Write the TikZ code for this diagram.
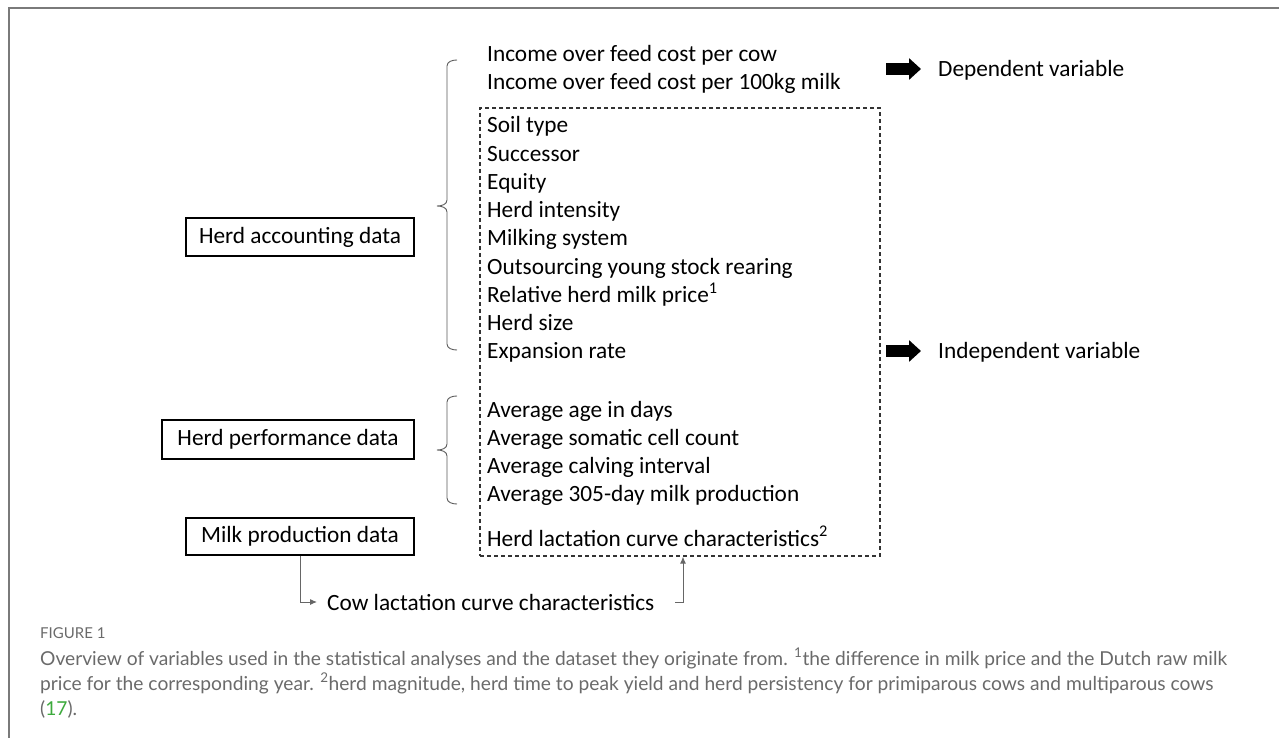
\documentclass[tikz,border=0pt]{standalone}
\usepackage{fontspec}
\setmainfont{Carlito}
\newfontfamily\capfont{Lato}
\usetikzlibrary{arrows.meta, positioning}
\definecolor{framegray}{HTML}{7A7A7A}
\definecolor{capgray}{HTML}{6A6A6A}
\definecolor{refgreen}{HTML}{3DAA3D}

\begin{document}
\begin{tikzpicture}[x=1pt, y=1pt]

\tikzset{databox/.style = {shape=rectangle, draw, line width=1.2pt, minimum height=38pt, font=\fontsize{23.3}{28}\selectfont}}
\tikzset{item/.style = {anchor=base west, inner sep=0pt, font=\fontsize{23.3}{28}\selectfont}}
\tikzset{dashbox/.style = {shape=rectangle, draw=black!80, dash pattern=on 4pt off 3pt, line width=1.1pt}}
\tikzset{curly/.style = {draw=black!65, line width=0.9pt}}
\tikzset{conn/.style = {draw=black!60, line width=1pt, -{Latex[length=7pt, width=6pt]}}}
\tikzset{bigarrow/.style = {line width=12pt, -{Triangle[length=12pt, width=21pt]}}}
\useasboundingbox (0,0) rectangle (1279,-738);
\draw[framegray, line width=1.5pt] (9,-738) -- (9,-8) -- (1279,-8);
% vertices
\node[databox, minimum width=228pt] (acc) at (300,-237) {Herd accounting data};
\node[databox, minimum width=252pt, minimum height=39pt] (perf) at (288,-439.5) {Herd performance data};
\node[databox, minimum width=228pt, minimum height=37pt] (milk) at (300,-536.5) {Milk production data};
\node[dashbox, minimum width=400pt, minimum height=448pt] (dash) at (680,-332) {};
\node[item] (inccow) at (487,-61.5) {Income over feed cost per cow};
\node[item] (inckg) at (487,-89.5) {Income over feed cost per 100kg milk};
\node[item] (soil) at (487,-133) {Soil type};
\node[item] (succ) at (487,-161.2) {Successor};
\node[item] (equity) at (487,-189.4) {Equity};
\node[item] (intens) at (487,-217.6) {Herd intensity};
\node[item] (milking) at (487,-245.8) {Milking system};
\node[item] (outsrc) at (487,-274) {Outsourcing young stock rearing};
\node[item] (price) at (487,-302.2) {Relative herd milk price\textsuperscript{1}};
\node[item] (size) at (487,-330.4) {Herd size};
\node[item] (expand) at (487,-358.6) {Expansion rate};
\node[item] (age) at (487,-417) {Average age in days};
\node[item] (scc) at (487,-445) {Average somatic cell count};
\node[item] (calving) at (487,-473) {Average calving interval};
\node[item] (prod305) at (487,-501) {Average 305-day milk production};
\node[item] (herdlac) at (487,-546) {Herd lactation curve characteristics\textsuperscript{2}};
\node[item] (cowlac) at (327,-610) {Cow lactation curve characteristics};
\node[item] (dep) at (938,-77) {Dependent variable};
\node[item] (indep) at (938,-358) {Independent variable};
\coordinate (deptail) at (886,-69);
\coordinate (indeptail) at (886,-351);
%edges
\draw[curly] (457,-60) to[out=180,in=90] (447,-66) -- (447,-200) to[out=-90,in=0] (437,-206)
  to[out=0,in=90] (447,-212) -- (447,-344) to[out=-90,in=180] (457,-350);
\draw[curly] (457,-396) to[out=180,in=90] (447,-402) -- (447,-444) to[out=-90,in=0] (437,-450)
  to[out=0,in=90] (447,-456) -- (447,-498) to[out=-90,in=180] (457,-504);
\draw[conn] (milk.south) |- ([xshift=-10pt]cowlac.west);
\draw[conn, shorten <=21pt] (cowlac.east) -| ([xshift=3pt]dash.south);
\draw[bigarrow, shorten >=17pt] (deptail) -- (deptail -| dep.west);
\draw[bigarrow, shorten >=17pt] (indeptail) -- (indeptail -| indep.west);
% caption
\node[anchor=base west, inner sep=0pt, text=capgray, font=\capfont\fontsize{15}{17}\selectfont] (fig) at (40,-638) {FIGURE 1};
\node[anchor=north west, inner sep=0pt, align=left, text=capgray, font=\capfont\fontsize{19.2}{25}\selectfont] (cap) at (40,-648)
  {Overview of variables used in the statistical analyses and the dataset they originate from. \textsuperscript{1}the difference in milk price and the Dutch raw milk\\
   price for the corresponding year. \textsuperscript{2}herd magnitude, herd time to peak yield and herd persistency for primiparous cows and multiparous cows\\
   (\textcolor{refgreen}{17}).};
\end{tikzpicture}
\end{document}
